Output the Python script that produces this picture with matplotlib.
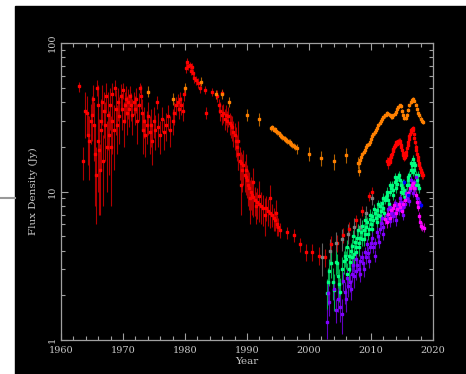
import numpy as np
import matplotlib
matplotlib.use('Agg')
import matplotlib.pyplot as plt
from matplotlib.patches import Rectangle
from matplotlib.lines import Line2D
from matplotlib.ticker import LogLocator, FixedLocator, MultipleLocator, NullFormatter

# red series (year, flux Jy, error Jy)
red_year = [1962.9, 1963.6, 1963.9, 1964.2, 1964.4, 1964.5, 1964.8, 1965.0, 1965.2, 1965.4,
            1965.5, 1965.6, 1965.8, 1965.9, 1966.0, 1966.1, 1966.3, 1966.4, 1966.5, 1966.6,
            1966.8, 1967.0, 1967.1, 1967.3, 1967.4, 1967.5, 1967.7, 1967.9, 1968.0, 1968.2,
            1968.3, 1968.5, 1968.7, 1968.8, 1969.0, 1969.2, 1969.4, 1969.6, 1969.8, 1970.0,
            1970.1, 1970.3, 1970.5, 1970.6, 1970.8, 1971.0, 1971.1, 1971.3, 1971.5, 1971.7,
            1971.9, 1972.1, 1972.3, 1972.5, 1972.7, 1972.9, 1973.0, 1973.2, 1973.4, 1973.6,
            1973.8, 1974.0, 1974.3, 1974.5, 1974.7, 1975.0, 1975.2, 1975.5, 1975.7, 1976.0,
            1976.3, 1976.6, 1977.0, 1977.3, 1977.6, 1978.0, 1978.3, 1978.6, 1978.8, 1979.0,
            1979.2, 1979.4, 1979.6, 1979.9, 1980.1, 1980.3, 1980.5, 1980.8, 1981.0, 1981.2,
            1981.3, 1981.5, 1981.8, 1982.1, 1982.4, 1983.2, 1983.4, 1984.3, 1985.2, 1985.5,
            1985.7, 1985.9, 1986.0, 1986.2, 1986.4, 1986.6, 1986.8, 1987.0, 1987.2, 1987.4,
            1987.6, 1987.8, 1988.0, 1988.2, 1988.4, 1988.6, 1988.8, 1989.0, 1989.2, 1989.4,
            1989.6, 1989.8, 1990.0, 1990.2, 1990.4, 1990.6, 1990.8, 1991.0, 1991.3, 1991.6,
            1991.9, 1992.2, 1992.6, 1993.0, 1993.4, 1993.7, 1994.0, 1994.3, 1994.5, 1994.8,
            1995.0, 1995.3, 1996.5, 1997.6, 1998.5, 1999.5, 2000.5, 2001.6, 2002.6, 2003.5,
            2004.5, 2005.5, 2006.5, 2007.6, 2008.5, 2009.6, 2010.2,
            2012.6, 2012.7, 2012.8, 2012.9, 2013.0, 2013.1, 2013.2, 2013.3, 2013.4, 2013.5,
            2013.6, 2013.7, 2013.8, 2013.9, 2014.0, 2014.1, 2014.2, 2014.3, 2014.4, 2014.5,
            2014.6, 2014.7, 2014.8, 2014.9, 2015.0, 2015.1, 2015.2, 2015.3, 2015.4, 2015.5,
            2015.6, 2015.7, 2015.8, 2015.9, 2016.0, 2016.1, 2016.2, 2016.3, 2016.4, 2016.5,
            2016.6, 2016.7, 2016.8, 2016.9, 2017.0, 2017.1, 2017.2, 2017.3, 2017.4, 2017.5,
            2017.6, 2017.7, 2017.8, 2017.9, 2018.0, 2018.1, 2018.2, 2018.3, 2018.4,
            1988.5, 1989.1, 1989.9, 1990.5, 1990.9, 1991.4, 1992.0, 1992.9, 1993.7, 1994.6]
red_flux = [51, 16, 35, 34, 24, 22, 30, 33, 42, 28,
            18, 13, 50, 22, 38, 19, 14, 30, 26, 40,
            16, 35, 28, 44, 20, 33, 24, 38, 20, 30,
            45, 26, 50, 36, 28, 40, 32, 44, 36, 48,
            30, 38, 42, 34, 40, 36, 44, 38, 33, 40,
            36, 42, 30, 38, 50, 44, 34, 26, 30, 24,
            28, 32, 25, 28, 22, 30, 26, 40, 27, 24,
            31, 25, 28, 32, 26, 30, 34, 38, 40, 36,
            42, 38, 35, 45, 68, 75, 70, 71, 65, 69,
            63, 58, 56, 54, 50, 48, 34, 47, 44, 38,
            35, 33, 46, 34, 31, 33, 30, 32, 29, 28,
            27, 25, 24, 22, 20, 18, 16, 15.5, 14, 15,
            13, 12.5, 12, 11, 10.5, 10, 9.5, 9.2, 8.8, 8.5,
            8.2, 8.0, 7.7, 7.8, 7.4, 7.2, 7.0, 6.6, 6.4, 6.0,
            5.8, 5.5, 5.3, 5.1, 4.4, 3.9, 3.9, 3.7, 3.6, 4.4,
            4.5, 5.1, 5.6, 6.4, 7.4, 9.3, 9.9,
            16.0, 15.2, 15.8, 16.5, 15.8, 16.3, 17.0, 17.5, 18.0, 18.6,
            19.2, 19.8, 20.2, 20.6, 21.0, 21.5, 21.0, 21.8, 21.5, 22.0,
            21.2, 22.0, 20.5, 19.8, 19.0, 18.2, 17.6, 17.2, 16.8, 17.0,
            17.5, 18.5, 19.5, 20.5, 21.5, 22.5, 23.5, 24.5, 25.0, 25.8,
            26.2, 26.7, 26.0, 24.5, 23.0, 21.5, 20.0, 19.0, 18.0, 17.0,
            16.2, 15.6, 15.0, 14.5, 14.0, 13.6, 13.3, 13.0, 12.9,
            22, 11, 14, 9.0, 11.5, 8.0, 9.3, 7.0, 9.0, 7.2]
red_err = [4, 4, 12, 10, 9, 10, 9, 11, 10, 12,
           10, 7, 6, 12, 14, 12, 7, 12, 12, 12,
           8, 12, 12, 10, 10, 14, 11, 12, 12, 12,
           9, 12, 6, 12, 10, 10, 11, 9, 10, 6,
           10, 9, 9, 10, 9, 9, 7, 8, 9, 7,
           8, 8, 9, 8, 4, 8, 8, 8, 7, 7,
           7, 8, 7, 8, 7, 7, 7, 4, 7, 6,
           6, 6, 6, 6, 6, 6, 6, 5, 5, 5,
           5, 5, 5, 4, 5, 4, 4, 4, 4, 4,
           4, 4, 4, 4, 4, 3, 3, 3, 4, 4,
           5, 5, 3, 5, 5, 5, 5, 5, 5, 5,
           5, 5, 5, 5, 4, 4, 4, 3, 4, 4,
           3, 3, 3, 3, 3, 2.5, 2.5, 2.5, 2, 2,
           2, 2, 1.8, 1.5, 1.5, 1.5, 1.2, 1.2, 1.0, 1.0,
           0.8, 0.6, 0.5, 0.5, 0.5, 0.5, 0.5, 0.5, 0.5, 0.6,
           0.6, 0.6, 0.6, 0.6, 0.6, 0.7, 0.8,
           1.0, 1.0, 0.8, 0.8, 0.8, 0.8, 0.8, 0.8, 0.8, 0.8,
           0.8, 0.8, 0.8, 0.8, 0.8, 0.8, 0.8, 0.8, 0.8, 0.8,
           0.8, 0.8, 0.8, 0.8, 0.8, 0.8, 0.8, 0.8, 0.8, 0.8,
           0.8, 0.8, 0.8, 0.8, 0.8, 0.8, 0.8, 0.8, 0.8, 0.8,
           0.8, 0.8, 0.8, 0.8, 0.8, 0.8, 0.8, 0.8, 0.8, 0.8,
           0.8, 0.8, 0.8, 0.8, 0.8, 0.8, 0.8, 0.8, 0.8,
           8, 4, 4, 3, 3, 2, 2.5, 2, 2, 1.5]

# orange series
orange_year = [1974.0, 1978.1, 1980.0, 1982.6, 1985.0, 1986.0, 1987.1, 1990.0, 1991.9,
               1993.9, 1994.1, 1994.3, 1994.5, 1994.7, 1994.9, 1995.1, 1995.3, 1995.5, 1995.7,
               1995.9, 1996.1, 1996.3, 1996.5, 1996.7, 1996.9, 1997.1, 1997.3, 1997.5, 1997.7,
               1998.1, 2000.0, 2002.0, 2004.0, 2006.0, 2007.9, 2008.1,
               2008.0, 2008.2, 2008.4, 2008.6, 2008.8, 2009.0, 2009.2, 2009.4, 2009.6, 2009.8,
               2010.0, 2010.2, 2010.4, 2010.6, 2010.8, 2011.0, 2011.2, 2011.4, 2011.6, 2011.8,
               2012.0, 2012.2, 2012.4, 2012.6, 2012.8, 2013.0, 2013.2, 2013.4, 2013.6, 2013.8,
               2014.0, 2014.2, 2014.4, 2014.6, 2014.8, 2015.0, 2015.2, 2015.4, 2015.6, 2015.8,
               2016.0, 2016.2, 2016.4, 2016.6, 2016.8, 2017.0, 2017.2, 2017.4, 2017.6, 2017.8,
               2018.0, 2018.2, 2018.4]
orange_flux = [47, 42, 50, 55, 45, 45, 40, 32.7, 30.6,
               26.7, 27, 26, 26.3, 25.5, 25, 24.6, 24, 23.6, 23.3,
               22.8, 22.5, 22.2, 22, 21.7, 21.4, 21, 20.6, 20.3, 20,
               19.5, 18, 16.8, 16, 17.5, 15.6, 13.8,
               15.5, 16.3, 17, 17.8, 18.5, 19, 19.8, 20.5, 21, 21.6,
               22.5, 23.5, 24.5, 25, 26, 26.7, 28, 29, 30, 31,
               31.6, 32.5, 33, 34, 33.5, 33, 32, 31.6, 32.5, 33.5,
               34.5, 36, 37, 38, 37.5, 35, 33, 31.5, 31.5, 33,
               35.5, 38, 40, 41.5, 42, 41, 38.5, 36, 34, 32.5,
               31, 30, 29.5]
orange_err = [4, 4, 4, 4, 3, 3, 3, 3, 3,
              1, 1, 1, 1, 1, 1, 1, 1, 1, 1,
              1, 1, 1, 1, 1, 1, 1, 1, 1, 1,
              1.5, 2, 2, 2, 2, 1.5, 1,
              0.6, 0.6, 0.6, 0.6, 0.6, 0.6, 0.6, 0.6, 0.6, 0.6,
              0.8, 0.8, 0.8, 0.8, 0.8, 0.8, 0.8, 0.8, 0.8, 0.8,
              1, 1, 1, 1, 1, 1, 1, 1, 1, 1,
              1, 1, 1, 1, 1, 1, 1, 1, 1, 1,
              1, 1, 1, 1, 1, 1, 1, 1, 1, 1,
              1, 1, 1]

# grey points
grey_year = [2002.1, 2003.4, 2004.4, 2005.3, 2006.3, 2007.3, 2008.2, 2009.2, 2010.2]
grey_flux = [3.6, 4.0, 4.5, 4.8, 5.2, 5.8, 5.8, 7.2, 9.0]
grey_err = [0.9, 0.8, 0.8, 0.8, 0.8, 0.8, 0.8, 0.8, 0.9]

# green series
green_year = [2002.9, 2003.1, 2003.2, 2003.5, 2003.9, 2004.0, 2004.3, 2004.5, 2004.7, 2004.9,
              2005.0, 2005.3, 2005.6, 2005.8, 2006.0, 2006.2, 2006.4, 2006.6, 2006.8, 2007.0,
              2007.2, 2007.4, 2007.6, 2007.8, 2008.0, 2008.2, 2008.4, 2008.6, 2008.8, 2009.0,
              2009.2, 2009.4, 2009.6, 2009.8, 2010.0, 2010.2, 2010.4, 2010.6, 2010.8, 2011.0,
              2011.2, 2011.4, 2011.6, 2011.8, 2012.0, 2012.2, 2012.4, 2012.6, 2012.8, 2013.0,
              2013.2, 2013.4, 2013.6, 2013.8, 2014.0, 2014.2, 2014.4, 2014.6, 2014.8, 2015.0,
              2015.2, 2015.4, 2015.6, 2015.8, 2016.0, 2016.2, 2016.4, 2016.6, 2016.8, 2016.9,
              2017.0, 2017.2, 2017.4, 2017.6, 2017.8,
              2006.1, 2006.5, 2006.9, 2007.1, 2007.5, 2007.9, 2008.1, 2008.5, 2008.9, 2009.1,
              2009.5, 2009.9, 2010.1, 2010.5, 2010.9, 2011.1, 2011.5, 2011.9, 2012.1, 2012.5,
              2012.9, 2013.1, 2013.5, 2013.9, 2014.1, 2014.5, 2014.9, 2015.1, 2015.5, 2015.9,
              2016.1, 2016.5, 2016.7, 2017.1, 2017.3, 2017.5]
green_flux = [2.07, 2.46, 2.9, 3.3, 2.46, 2.17, 3.35, 3.3, 2.7, 2.4,
              2.1, 3.0, 3.4, 3.7, 3.5, 2.8, 3.7, 3.35, 4.0, 4.3,
              3.8, 4.6, 4.2, 4.9, 4.5, 4.9, 5.3, 4.8, 5.5, 5.2,
              5.8, 6.2, 5.6, 6.5, 6.0, 6.8, 6.4, 7.2, 6.6, 7.5,
              7.0, 8.0, 7.4, 8.4, 7.8, 8.8, 9.2, 9.5, 8.8, 10.0,
              10.5, 11.0, 10.2, 11.5, 12.0, 11.2, 12.5, 12.0, 11.0, 10.5,
              9.8, 10.2, 9.8, 11.0, 12.0, 13.0, 14.0, 15.0, 16.5, 15.5,
              14.0, 13.0, 12.0, 11.0, 10.5,
              4.2, 3.0, 3.6, 5.0, 3.9, 5.5, 4.2, 5.9, 4.8, 6.4,
              5.2, 7.0, 5.6, 7.6, 6.2, 8.2, 6.8, 9.0, 7.2, 10.0,
              8.2, 11.0, 9.5, 12.5, 10.5, 13.0, 10.0, 11.5, 9.2, 12.5,
              11.0, 15.5, 13.5, 15.0, 11.0, 13.0]
green_err = [0.5, 0.6, 0.6, 0.7, 0.6, 0.6, 0.6, 0.5, 0.6, 0.6,
             0.5, 0.6, 0.6, 0.6, 0.5, 0.5, 0.5, 0.5, 0.5, 0.5,
             0.6, 0.5, 0.5, 0.5, 0.5, 0.5, 0.5, 0.5, 0.5, 0.5,
             0.5, 0.5, 0.5, 0.5, 0.5, 0.6, 0.5, 0.6, 0.5, 0.6,
             0.6, 0.6, 0.6, 0.6, 0.6, 0.6, 0.6, 0.7, 0.6, 0.7,
             0.7, 0.7, 0.7, 0.7, 0.7, 0.7, 0.8, 0.7, 0.7, 0.7,
             0.7, 0.7, 0.7, 0.7, 0.8, 0.8, 0.8, 0.9, 1.0, 0.9,
             0.9, 0.8, 0.8, 0.8, 0.7,
             0.5, 0.5, 0.5, 0.5, 0.5, 0.5, 0.5, 0.5, 0.5, 0.5,
             0.5, 0.6, 0.5, 0.6, 0.5, 0.6, 0.6, 0.7, 0.6, 0.7,
             0.6, 0.7, 0.7, 0.8, 0.7, 0.8, 0.7, 0.7, 0.7, 0.8,
             0.7, 0.9, 0.8, 0.9, 0.8, 0.8]

# purple series
purple_year = [2002.9, 2003.1, 2003.3, 2004.7, 2005.0, 2005.3, 2005.8, 2006.0, 2006.3, 2006.6,
               2006.9, 2007.1, 2007.3, 2007.5, 2007.8, 2008.0, 2008.3, 2008.5, 2008.7, 2009.0,
               2009.2, 2009.5, 2009.8, 2010.0, 2010.3, 2010.6, 2010.9, 2011.2, 2011.4, 2011.6,
               2011.9, 2012.2, 2012.5, 2012.8, 2013.0, 2013.3, 2013.6, 2013.9, 2014.2, 2014.5,
               2014.8, 2015.0, 2015.2, 2015.5, 2015.8, 2016.0, 2016.3, 2016.6, 2016.9, 2017.1,
               2017.4, 2017.7,
               2004.0, 2004.3, 2005.5, 2006.1, 2006.8, 2007.6, 2008.2, 2008.9, 2009.3, 2009.7,
               2010.2, 2010.7, 2011.3, 2011.8, 2012.0, 2012.7, 2013.1, 2013.8, 2014.0, 2014.6,
               2015.1, 2015.6, 2016.1, 2016.5, 2016.8, 2017.2]
purple_flux = [1.32, 2.07, 1.8, 1.9, 1.67, 1.5, 2.1, 1.9, 2.3, 2.45,
               2.8, 3.2, 2.7, 2.9, 3.2, 3.0, 3.4, 3.6, 3.3, 3.9,
               3.6, 3.85, 4.2, 4.5, 4.2, 3.7, 5.3, 5.0, 5.6, 6.1,
               5.8, 6.5, 7.0, 6.6, 7.9, 7.2, 6.8, 7.2, 8.0, 7.5,
               8.5, 7.6, 7.9, 8.3, 9.0, 9.5, 10.2, 11.0, 11.5, 10.5,
               9.0, 8.5,
               2.2, 1.6, 2.5, 2.6, 2.2, 3.5, 2.8, 3.0, 4.4, 3.4,
               4.9, 4.5, 4.6, 6.6, 5.2, 7.6, 6.3, 8.4, 6.4, 9.0,
               7.0, 9.8, 8.6, 12.0, 9.8, 12.5]
purple_err = [0.3, 0.35, 0.35, 0.35, 0.35, 0.4, 0.35, 0.35, 0.35, 0.35,
              0.35, 0.35, 0.45, 0.35, 0.35, 0.35, 0.35, 0.35, 0.35, 0.35,
              0.35, 0.35, 0.35, 0.35, 0.35, 0.35, 0.45, 0.45, 0.45, 0.45,
              0.45, 0.45, 0.55, 0.45, 0.55, 0.55, 0.55, 0.55, 0.55, 0.55,
              0.55, 0.55, 0.55, 0.55, 0.55, 0.65, 0.65, 0.65, 0.65, 0.65,
              0.65, 0.65,
              0.35, 0.3, 0.35, 0.35, 0.35, 0.35, 0.35, 0.35, 0.4, 0.35,
              0.4, 0.4, 0.45, 0.5, 0.45, 0.55, 0.5, 0.55, 0.5, 0.6,
              0.55, 0.6, 0.6, 0.7, 0.65, 0.7]

# magenta series
magenta_year = [2012.3, 2012.6, 2012.8, 2013.0, 2013.3, 2013.5, 2013.7, 2014.0, 2014.2, 2014.5,
                2014.7, 2015.0, 2015.2, 2015.5, 2015.8, 2016.0, 2016.3, 2016.6, 2016.8, 2017.0,
                2017.2, 2017.4, 2017.6, 2017.7, 2017.9, 2018.1, 2018.3, 2018.5]
magenta_flux = [6.5, 6.2, 7.1, 6.6, 7.5, 7.8, 8.1, 7.2, 7.6, 8.2,
                7.9, 7.4, 8.2, 8.8, 9.5, 9.8, 10.5, 11.0, 11.4, 10.5,
                9.5, 8.5, 7.9, 6.8, 6.2, 5.9, 5.8, 5.7]
magenta_err = [0.5] * 16 + [0.6] * 5 + [0.5] * 3 + [0.4] * 4

# blue points
blue_year = [2015.3, 2016.0, 2018.0]
blue_flux = [11.6, 9.5, 8.1]
blue_err = [0.6, 0.5, 0.4]

fig = plt.figure(figsize=(4.66, 3.74), dpi=100, facecolor='white')
# black canvas and the little grey rule at the left
fig.add_artist(Rectangle((15 / 466, 0), 1 - 15 / 466, 1 - 6 / 374,
                         transform=fig.transFigure, color='black', zorder=0))
fig.add_artist(Line2D([0, 15 / 466], [1 - 198 / 374] * 2, transform=fig.transFigure,
                      color='#999999', lw=1.5))

ax = fig.add_axes([61 / 466, 1 - 340 / 374, 372 / 466, 297 / 374])
ax.set_facecolor('black')

series = [
    (red_year, red_flux, red_err, '#ff0000', '#b00000'),
    (orange_year, orange_flux, orange_err, '#ff8000', '#b06000'),
    (grey_year, grey_flux, grey_err, '#808080', '#606060'),
    (green_year, green_flux, green_err, '#00ff80', '#00b050'),
    (purple_year, purple_flux, purple_err, '#8000ff', '#6000c0'),
    (magenta_year, magenta_flux, magenta_err, '#ff00ff', '#b000b0'),
    (blue_year, blue_flux, blue_err, '#0000ff', '#0000b0'),
]
for yr, fl, er, c, ec in series:
    ax.errorbar(yr, fl, yerr=er, fmt='s', ms=1.9, mfc=c, mec=c, ecolor=ec,
                elinewidth=0.8, capsize=0)

ax.set_yscale('log')
ax.set_xlim(1960, 2020)
ax.set_ylim(1, 100)

fg = '#c8c8c8'
for s in ax.spines.values():
    s.set_color('#a0a0a0')
    s.set_linewidth(0.9)

ax.xaxis.set_major_locator(MultipleLocator(10))
ax.xaxis.set_minor_locator(MultipleLocator(2))
ax.yaxis.set_major_locator(FixedLocator([1, 10, 100]))
ax.yaxis.set_minor_locator(LogLocator(base=10, subs=np.arange(2, 10)))
ax.yaxis.set_minor_formatter(NullFormatter())
ax.set_yticklabels(['1', '10', '100'])

ax.tick_params(which='both', direction='in', top=True, right=True,
               colors='#a0a0a0', labelcolor=fg, labelsize=7)
ax.tick_params(which='major', length=5, width=0.8)
ax.tick_params(which='minor', length=3, width=0.8)
ax.tick_params(axis='x', pad=4)
ax.tick_params(axis='y', labelrotation=90, pad=3)
for lab in ax.get_xticklabels() + ax.get_yticklabels():
    lab.set_family('DejaVu Serif')
for lab in ax.get_yticklabels():
    lab.set_va('center')

ax.set_xlabel('Year', color=fg, fontsize=7.5, family='DejaVu Serif', labelpad=2)
ax.set_ylabel('Flux Density (Jy)', color=fg, fontsize=7.5, family='DejaVu Serif')
ax.yaxis.set_label_coords(-0.062, 0.5)

fig.savefig('out.png', dpi=100, facecolor='white')
